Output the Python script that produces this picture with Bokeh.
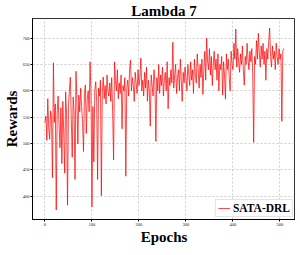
from bokeh.plotting import figure
from bokeh.models import Range1d, FixedTicker, Legend, LegendItem
from bokeh.embed import file_html
from bokeh.resources import INLINE

epochs = list(range(0, 510, 2))
rewards = [
    540, 552, 506, 585, 530, 508, 562, 548, 435, 653,
    540, 575, 374, 560, 590, 535, 492, 568, 462, 580,
    520, 444, 598, 555, 383, 570, 600, 626, 548, 474,
    588, 560, 432, 637, 580, 499, 592, 560, 605, 570,
    540, 485, 595, 611, 519, 585, 600, 560, 655, 590,
    380, 570, 465, 600, 617, 580, 432, 605, 590, 620,
    401, 598, 626, 585, 610, 575, 630, 600, 590, 615,
    580, 625, 560, 469, 655, 620, 600, 640, 585, 615,
    595, 630, 528, 610, 600, 625, 438, 605, 620, 590,
    640, 658, 600, 625, 610, 580, 635, 615, 595, 640,
    610, 625, 662, 600, 620, 590, 635, 605, 645, 580,
    620, 600, 533, 630, 610, 590, 640, 615, 504, 625,
    600, 650, 595, 630, 610, 645, 590, 620, 635, 600,
    655, 566, 625, 610, 640, 615, 692, 605, 630, 650,
    595, 625, 640, 600, 660, 620, 580, 635, 615, 645,
    625, 600, 650, 630, 610, 655, 620, 640, 595, 660,
    630, 615, 670, 640, 605, 650, 625, 660, 593, 640,
    675, 620, 700, 655, 640, 680, 630, 665, 610, 650,
    675, 640, 660, 620, 670, 600, 650, 640, 665, 592,
    655, 630, 584, 670, 640, 660, 625, 600, 675, 650,
    640, 690, 660, 717, 645, 680, 655, 635, 670, 650,
    685, 640, 611, 665, 650, 690, 660, 640, 675, 655,
    680, 630, 502, 665, 650, 695, 660, 709, 670, 645,
    685, 660, 690, 650, 675, 620, 680, 660, 695, 719,
    665, 645, 685, 660, 675, 640, 690, 665, 650, 680,
    660, 670, 542, 675, 680,
]
x_ticks = [0, 100, 200, 300, 400, 500]
y_ticks = [400, 450, 500, 550, 600, 650, 700]
series_name = "SATA-DRL"

SERIF = "Liberation Serif"

p = figure(width=295, height=247, output_backend="svg", toolbar_location=None,
           x_range=Range1d(-26.5, 533), y_range=Range1d(356, 737),
           title="Lambda 7", min_border_left=0, min_border_right=0,
           min_border_top=0, min_border_bottom=0)

p.title.align = "center"
p.title.text_font = SERIF
p.title.text_font_style = "bold"
p.title.text_font_size = "15px"
p.title.text_color = "black"
p.title.standoff = 0
p.title.offset = 0

r = p.line(epochs, rewards, line_color="#ff0000", line_width=0.8, line_alpha=0.9)

p.outline_line_color = "black"
p.outline_line_width = 1
p.outline_line_alpha = 0.8

for ax in (p.xaxis, p.yaxis):
    ax.axis_label_text_font = SERIF
    ax.axis_label_text_font_style = "bold"
    ax.axis_label_text_font_size = "15px"
    ax.axis_label_text_color = "black"
    ax.major_label_text_font = SERIF
    ax.major_label_text_font_size = "4.5px"
    ax.major_label_text_color = "#222222"
    ax.major_tick_out = 2
    ax.major_tick_in = 0
    ax.minor_tick_out = 0
    ax.minor_tick_in = 0
    ax.axis_line_color = "black"
    ax.major_tick_line_color = "black"
    ax.major_label_standoff = 1
    ax.axis_label_standoff = 0

p.xaxis.axis_label = "Epochs"
p.yaxis.axis_label = "Rewards"
p.xaxis.ticker = FixedTicker(ticks=x_ticks)
p.yaxis.ticker = FixedTicker(ticks=y_ticks)

p.xgrid.ticker = FixedTicker(ticks=x_ticks)
p.ygrid.ticker = FixedTicker(ticks=y_ticks)
for g in (p.xgrid, p.ygrid):
    g.grid_line_color = "#b0b0b0"
    g.grid_line_dash = "2 2"
    g.grid_line_width = 0.6

legend = Legend(items=[LegendItem(label=series_name, renderers=[r])],
                location="bottom_right")
legend.label_text_font = SERIF
legend.label_text_font_style = "bold"
legend.label_text_font_size = "11.5px"
legend.label_text_color = "black"
legend.margin = 2
legend.padding = 2
legend.spacing = 0
legend.glyph_width = 12
legend.glyph_height = 10
legend.label_height = 10
legend.label_standoff = 3
legend.border_line_color = "#cccccc"
legend.background_fill_alpha = 0.9
p.add_layout(legend)

open("out.html", "w").write(file_html(p, INLINE))
